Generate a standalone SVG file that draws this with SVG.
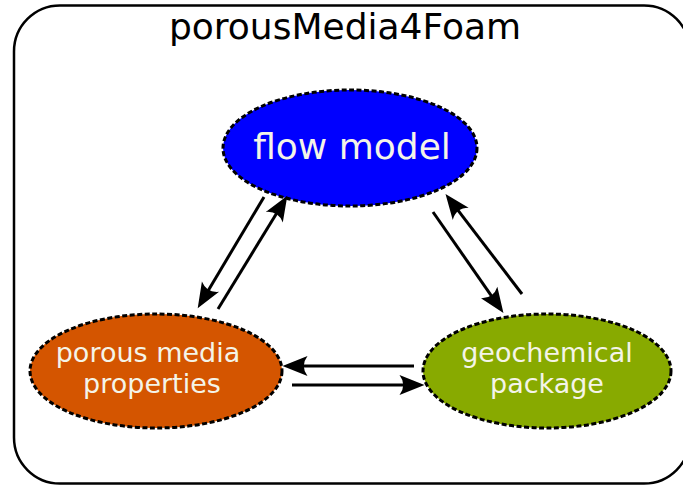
<svg xmlns="http://www.w3.org/2000/svg" width="683" height="486" viewBox="0 0 683 486">
  <defs>
    <style>
      .frame { fill: #ffffff; stroke: #000000; stroke-width: 2.5; }
      .title { font-family: "DejaVu Sans", sans-serif; font-size: 36px; fill: #000000; text-anchor: middle; }
      .node { stroke: #000000; stroke-width: 3; stroke-dasharray: 5 2.5; }
      .big { font-family: "DejaVu Sans", sans-serif; font-size: 36px; fill: #f4f4e8; text-anchor: middle; }
      .lbl { font-family: "DejaVu Sans", sans-serif; font-size: 27px; fill: #f4f4e8; text-anchor: middle; }
      .conn { stroke: #000000; stroke-width: 3; fill: none; marker-end: url(#arrow); }
    </style>
    <marker id="arrow" markerUnits="userSpaceOnUse" markerWidth="30" markerHeight="30" viewBox="-12 -10 24 20" refX="0" refY="0" orient="auto" overflow="visible">
      <path d="M10,0 L-10,-8 Q-4,0 -10,8 Z" fill="#000000"/>
    </marker>
  </defs>
  <rect class="frame" x="14" y="5.5" width="676" height="478" rx="46" ry="46"/>
  <text class="title" x="345" y="39">porousMedia4Foam</text>

  <g id="flow-model">
    <ellipse class="node" cx="350" cy="148" rx="127" ry="58" fill="#0000ff"/>
    <text class="big" x="352" y="159">flow model</text>
  </g>
  <g id="porous-media-properties">
    <ellipse class="node" cx="156" cy="371" rx="126" ry="57" fill="#d45500"/>
    <text class="lbl" x="148" y="362">porous media</text>
    <text class="lbl" x="152" y="393">properties</text>
  </g>
  <g id="geochemical-package">
    <ellipse class="node" cx="547" cy="371" rx="124" ry="57" fill="#88aa00"/>
    <text class="lbl" x="547" y="362">geochemical</text>
    <text class="lbl" x="547" y="393">package</text>
  </g>

  <g id="connectors">
    <line class="conn" x1="264" y1="197" x2="204.1" y2="297.4"/>
    <line class="conn" x1="218" y1="309" x2="280.8" y2="206.5"/>
    <line class="conn" x1="433" y1="212" x2="496.3" y2="302.8"/>
    <line class="conn" x1="522" y1="294" x2="453.1" y2="203.9"/>
    <line class="conn" x1="414" y1="366" x2="295" y2="366"/>
    <line class="conn" x1="292" y1="385" x2="412" y2="385"/>
  </g>
</svg>
